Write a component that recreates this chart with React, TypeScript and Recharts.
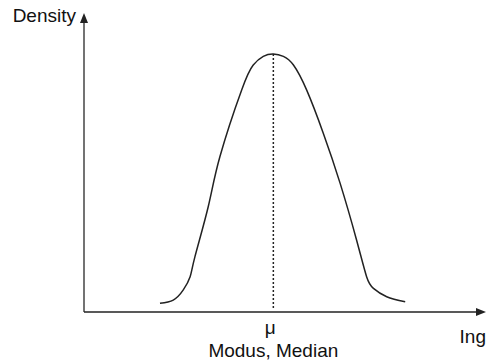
import { Line, LineChart, ReferenceLine, XAxis, YAxis } from "recharts";

// values (Ing on 0..100, density on 0..1)
const ING = [
  18.9, 22.2, 24.7, 26.4, 27.6, 30.9, 33.8, 39.2, 42.1, 44.6, 47.1, 49.6, 52.1,
  55.4, 59.5, 63.7, 67.8, 70.3, 72.0, 75.3, 79.9,
];
const DENSITY = [
  0.029, 0.04, 0.074, 0.118, 0.185, 0.352, 0.519, 0.742, 0.826, 0.855, 0.863,
  0.855, 0.826, 0.742, 0.599, 0.431, 0.241, 0.118, 0.079, 0.051, 0.034,
];
const MU = 47.1;
const PEAK = 0.863;
const X_LABEL = "Ing";
const Y_LABEL = "Density";
const MU_LABEL = "μ";
const MU_NOTE = "Modus, Median";

const data = ING.map((x, i) => ({ x, y: DENSITY[i] }));

const FONT = "'Liberation Sans', Arial, sans-serif";
const INK = "#222";

function YAxisArrow(props: any) {
  const { x1, y1, x2, y2 } = props;
  const top = Math.min(y1, y2);
  const bottom = Math.max(y1, y2);
  return (
    <g>
      <line x1={x1} y1={bottom} x2={x2} y2={top + 8} stroke="#444" strokeWidth={1.5} />
      <polygon points={`${x1},${top} ${x1 - 4},${top + 10} ${x1 + 4},${top + 10}`} fill={INK} />
      <text x={x1 - 8} y={top + 9} textAnchor="end" fontFamily={FONT} fontSize={19} fill="#111">
        {Y_LABEL}
      </text>
    </g>
  );
}

function XAxisArrow(props: any) {
  const { x1, y1, x2 } = props;
  const right = Math.max(x1, x2);
  const left = Math.min(x1, x2);
  return (
    <g>
      <line x1={left} y1={y1} x2={right - 8} y2={y1} stroke={INK} strokeWidth={1.5} />
      <polygon points={`${right},${y1} ${right - 10},${y1 - 4} ${right - 10},${y1 + 4}`} fill={INK} />
      <text x={right} y={y1 + 31} textAnchor="end" fontFamily={FONT} fontSize={19} fill="#111">
        {X_LABEL}
      </text>
    </g>
  );
}

function MuLine(props: any) {
  const { x1, y1, y2 } = props;
  const top = Math.min(y1, y2);
  const bottom = Math.max(y1, y2);
  return (
    <g>
      <line x1={x1} y1={top} x2={x1} y2={bottom - 3} stroke={INK} strokeWidth={1.5} strokeDasharray="2 2" />
      <text x={x1 - 3} y={bottom + 22} textAnchor="middle" fontFamily={FONT} fontSize={19} fill="#111">
        {MU_LABEL}
      </text>
      <text x={x1} y={bottom + 45} textAnchor="middle" fontFamily={FONT} fontSize={19} fill="#111">
        {MU_NOTE}
      </text>
    </g>
  );
}

export default function App() {
  return (
    <div style={{ position: "absolute", left: 0, top: 0, background: "#fff" }}>
      <LineChart
        width={487}
        height={363}
        data={data}
        margin={{ top: 13, right: 1, left: 84, bottom: 51 }}
      >
        <XAxis type="number" dataKey="x" domain={[0, 100]} hide />
        <YAxis type="number" domain={[0, 1]} hide />
        <ReferenceLine
          segment={[
            { x: MU, y: 0 },
            { x: MU, y: PEAK },
          ]}
          shape={MuLine}
        />
        <ReferenceLine
          segment={[
            { x: 0, y: 0 },
            { x: 0, y: 1 },
          ]}
          shape={YAxisArrow}
        />
        <ReferenceLine
          segment={[
            { x: 0, y: 0 },
            { x: 100, y: 0 },
          ]}
          shape={XAxisArrow}
        />
        <Line
          type="natural"
          dataKey="y"
          stroke={INK}
          strokeWidth={1.5}
          dot={false}
          activeDot={false}
          isAnimationActive={false}
        />
      </LineChart>
    </div>
  );
}
